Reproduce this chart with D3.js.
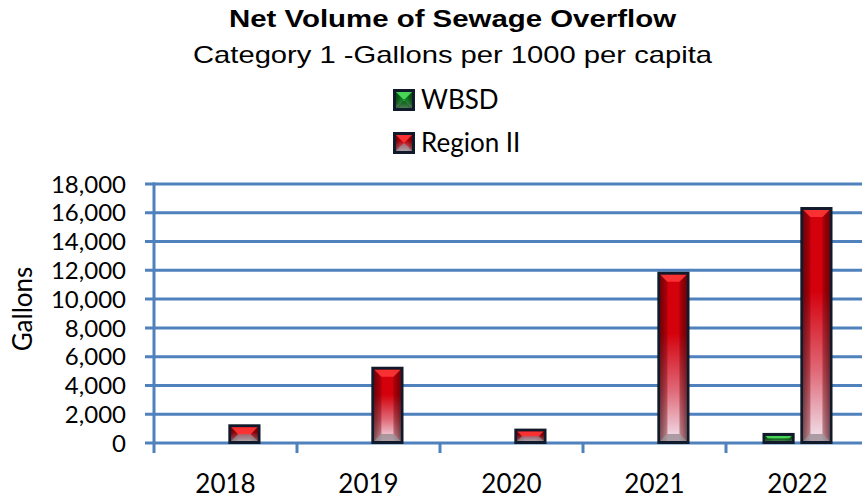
<!DOCTYPE html>
<html>
<head>
<meta charset="utf-8">
<script src="https://cdn.jsdelivr.net/npm/d3@7"></script>
<style>
  body { margin: 0; background: #fff; }
  svg { display: block; }
</style>
</head>
<body>
<div id="chart"></div>
<script>
var years = ['2018', '2019', '2020', '2021', '2022'];
var seriesNames = ['WBSD', 'Region II'];
var wbsd = [0, 0, 0, 0, 700];
var region = [1300, 5300, 1000, 11900, 16400];
var yTicks = [0, 2000, 4000, 6000, 8000, 10000, 12000, 14000, 16000, 18000];

var width = 862, height = 498;
var plotLeft = 154, plotRight = 869, plotTop = 184, plotBottom = 443;
var blue = '#4f81bd';

var svg = d3.select('#chart').append('svg')
  .attr('width', width)
  .attr('height', height);

var defs = svg.append('defs');

// vertical body gradients, one per series
var palettes = {
  'WBSD': ['#0a8a1e', '#3aa84a', '#d8efdc'],
  'Region II': ['#d4000c', '#e06a78', '#f1e4ef']
};
var edges = {
  'WBSD': ['#54e060', '#0f4a18', '#0c3d14', '#0c3d14'],
  'Region II': ['#ff3a3a', '#8e8088', '#7a0008', '#7a0008']
};
seriesNames.forEach(function(name, i) {
  var g = defs.append('linearGradient')
    .attr('id', 'body' + i)
    .attr('x1', 0).attr('y1', 0).attr('x2', 0).attr('y2', 1);
  g.append('stop').attr('offset', '0%').attr('stop-color', palettes[name][0]);
  g.append('stop').attr('offset', '35%').attr('stop-color', palettes[name][0]);
  g.append('stop').attr('offset', '70%').attr('stop-color', palettes[name][1]);
  g.append('stop').attr('offset', '100%').attr('stop-color', palettes[name][2]);
});
var shade = defs.append('linearGradient')
  .attr('id', 'shade')
  .attr('x1', 0).attr('y1', 0).attr('x2', 1).attr('y2', 0);
shade.append('stop').attr('offset', '0%').attr('stop-color', '#000').attr('stop-opacity', 0.45);
shade.append('stop').attr('offset', '30%').attr('stop-color', '#000').attr('stop-opacity', 0);
shade.append('stop').attr('offset', '70%').attr('stop-color', '#000').attr('stop-opacity', 0);
shade.append('stop').attr('offset', '100%').attr('stop-color', '#000').attr('stop-opacity', 0.45);

var x0 = d3.scaleBand().domain(years).range([plotLeft, plotRight]);
var x1 = d3.scaleBand().domain(seriesNames).range([36.5, 106.5]).paddingInner(0.15);
var y = d3.scaleLinear().domain([0, 18000]).range([plotBottom, plotTop]);

// gridlines
svg.append('g')
  .selectAll('line')
  .data(yTicks)
  .enter().append('line')
  .attr('x1', plotLeft - 9)
  .attr('x2', width)
  .attr('y1', function(d) { return y(d); })
  .attr('y2', function(d) { return y(d); })
  .attr('stroke', blue)
  .attr('stroke-width', 3);

// y axis line
svg.append('line')
  .attr('x1', plotLeft).attr('x2', plotLeft)
  .attr('y1', plotTop - 1.5).attr('y2', plotBottom + 10)
  .attr('stroke', blue).attr('stroke-width', 3);

// category ticks on x axis
svg.append('g')
  .selectAll('line')
  .data(years.slice(1))
  .enter().append('line')
  .attr('x1', function(d) { return x0(d); })
  .attr('x2', function(d) { return x0(d); })
  .attr('y1', plotBottom).attr('y2', plotBottom + 10)
  .attr('stroke', blue).attr('stroke-width', 3);

// y tick labels
svg.append('g')
  .selectAll('text')
  .data(yTicks)
  .enter().append('text')
  .attr('x', 126)
  .attr('y', function(d) { return y(d); })
  .attr('dy', '0.36em')
  .attr('text-anchor', 'end')
  .attr('font-family', 'Lato, sans-serif')
  .attr('font-size', 24)
  .text(d3.format(','));

// x labels
svg.append('g')
  .selectAll('text')
  .data(years)
  .enter().append('text')
  .attr('x', function(d) { return x0(d) + 71.5; })
  .attr('y', 493)
  .attr('text-anchor', 'middle')
  .attr('font-family', 'Lato, sans-serif')
  .attr('font-size', 26)
  .text(function(d) { return d; });

// y title
svg.append('text')
  .attr('transform', 'translate(32,309) rotate(-90)')
  .attr('text-anchor', 'middle')
  .attr('font-family', 'Lato, sans-serif')
  .attr('font-size', 26)
  .text('Gallons');

// titles (the source picture is a bit stretched sideways)
svg.append('text')
  .attr('x', 229).attr('y', 27)
  .attr('textLength', 447)
  .attr('lengthAdjust', 'spacingAndGlyphs')
  .attr('font-family', 'Liberation Sans, Arial, sans-serif')
  .attr('font-weight', 'bold')
  .attr('font-size', 24)
  .text('Net Volume of Sewage Overflow');
svg.append('text')
  .attr('x', 193).attr('y', 63)
  .attr('textLength', 519)
  .attr('lengthAdjust', 'spacingAndGlyphs')
  .attr('font-family', 'Liberation Sans, Arial, sans-serif')
  .attr('font-size', 24)
  .text('Category 1 -Gallons per 1000 per capita');

// draws a bevelled box
function bevelBox(g, bx, by, bw, bh, si) {
  var name = seriesNames[si];
  var b = 3;
  g.append('rect')
    .attr('x', bx).attr('y', by).attr('width', bw).attr('height', bh)
    .attr('fill', '#101a2a');
  var ix = bx + b, iy = by + b, iw = bw - 2 * b, ih = bh - 2 * b;
  if (iw <= 0 || ih <= 0) return;
  g.append('rect')
    .attr('x', ix).attr('y', iy).attr('width', iw).attr('height', ih)
    .attr('fill', 'url(#body' + si + ')');
  g.append('rect')
    .attr('x', ix).attr('y', iy).attr('width', iw).attr('height', ih)
    .attr('fill', 'url(#shade)');
  var s = Math.min(7, ih / 2, iw / 2);
  var c = edges[name];
  var pts = {
    top: [[ix, iy], [ix + iw, iy], [ix + iw - s, iy + s], [ix + s, iy + s]],
    bottom: [[ix, iy + ih], [ix + iw, iy + ih], [ix + iw - s, iy + ih - s], [ix + s, iy + ih - s]],
    left: [[ix, iy], [ix + s, iy + s], [ix + s, iy + ih - s], [ix, iy + ih]],
    right: [[ix + iw, iy], [ix + iw - s, iy + s], [ix + iw - s, iy + ih - s], [ix + iw, iy + ih]]
  };
  g.append('polygon').attr('points', pts.left.join(' ')).attr('fill', c[2]).attr('opacity', 0.35);
  g.append('polygon').attr('points', pts.right.join(' ')).attr('fill', c[3]).attr('opacity', 0.35);
  g.append('polygon').attr('points', pts.top.join(' ')).attr('fill', c[0]).attr('opacity', 0.85);
  g.append('polygon').attr('points', pts.bottom.join(' ')).attr('fill', c[1]).attr('opacity', 0.7);
}

// bars
var rows = years.map(function(yr, i) {
  return { year: yr, values: [wbsd[i], region[i]] };
});
var barLayer = svg.append('g');
rows.forEach(function(row) {
  row.values.forEach(function(v, si) {
    if (v <= 0) return;
    var bx = x0(row.year) + x1(seriesNames[si]);
    var by = y(v);
    bevelBox(barLayer, bx, by, x1.bandwidth(), plotBottom + 1 - by, si);
  });
});

// legend
var legend = svg.append('g');
seriesNames.forEach(function(name, i) {
  var ly = 89 + i * 43;
  bevelBox(legend, 393, ly, 22, 22, i);
  legend.append('text')
    .attr('x', 421).attr('y', ly + 20)
    .attr('font-family', 'Lato, sans-serif')
    .attr('font-size', 26)
    .text(name);
});
</script>
</body>
</html>
